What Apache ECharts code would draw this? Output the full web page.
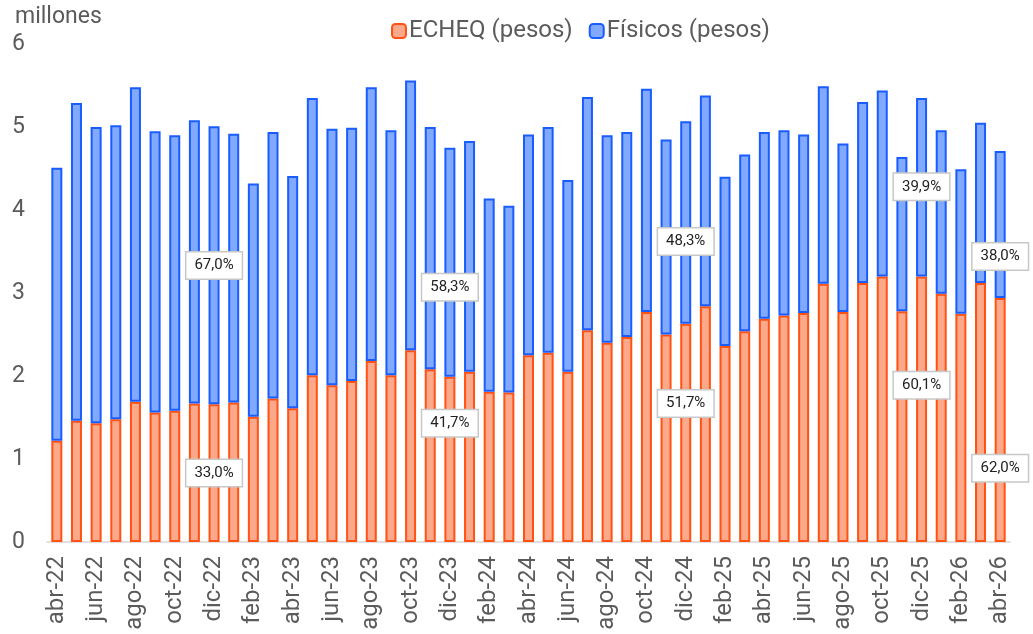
<!DOCTYPE html>
<html>
<head>
<meta charset="utf-8">
<script src="https://cdn.jsdelivr.net/npm/echarts@6/dist/echarts.min.js"></script>
<style>
  html, body { margin: 0; padding: 0; background: #fff; }
  #main { width: 1033px; height: 634px; }
</style>
</head>
<body>
<div id="main"></div>
<script>
// meses abr-22 .. abr-26
const months = [
  'abr-22','may-22','jun-22','jul-22','ago-22','sep-22','oct-22','nov-22','dic-22',
  'ene-23','feb-23','mar-23','abr-23','may-23','jun-23','jul-23','ago-23','sep-23','oct-23','nov-23','dic-23',
  'ene-24','feb-24','mar-24','abr-24','may-24','jun-24','jul-24','ago-24','sep-24','oct-24','nov-24','dic-24',
  'ene-25','feb-25','mar-25','abr-25','may-25','jun-25','jul-25','ago-25','sep-25','oct-25','nov-25','dic-25',
  'ene-26','feb-26','mar-26','abr-26'
]

// millones de cheques, ECHEQ
const echeq = [
  1.22, 1.46, 1.43, 1.48, 1.69, 1.56, 1.58, 1.67, 1.66,
  1.68, 1.51, 1.73, 1.61, 2.01, 1.89, 1.94, 2.18, 2.01, 2.31, 2.08, 1.99,
  2.05, 1.81, 1.80, 2.25, 2.28, 2.05, 2.55, 2.40, 2.47, 2.77, 2.50, 2.63,
  2.84, 2.36, 2.54, 2.69, 2.73, 2.76, 3.11, 2.77, 3.12, 3.20, 2.78, 3.20,
  2.99, 2.75, 3.12, 2.94
]

// millones de cheques, físicos
const fisicos = [
  3.29, 3.83, 3.57, 3.54, 3.79, 3.39, 3.32, 3.41, 3.35,
  3.24, 2.81, 3.21, 2.80, 3.34, 3.09, 3.05, 3.30, 2.95, 3.25, 2.92, 2.76,
  2.78, 2.33, 2.25, 2.66, 2.72, 2.31, 2.81, 2.50, 2.47, 2.69, 2.35, 2.44,
  2.54, 2.04, 2.13, 2.25, 2.23, 2.15, 2.38, 2.03, 2.18, 2.24, 1.86, 2.15,
  1.97, 1.74, 1.93, 1.77
]

// participación anual (cajas de texto)
const shareMonths = ['dic-22', 'dic-22', 'dic-23', 'dic-23', 'dic-24', 'dic-24', 'dic-25', 'dic-25', 'abr-26', 'abr-26']
const shareLevels = [3.33, 0.83, 3.07, 1.43, 3.62, 1.67, 4.28, 1.89, 3.44, 0.89]
const shareTexts = ['67,0%', '33,0%', '58,3%', '41,7%', '48,3%', '51,7%', '39,9%', '60,1%', '38,0%', '62,0%']

const yTicks = [0, 1, 2, 3, 4, 5, 6]

const FONT = 'Roboto'
const GREY = '#5b5b5b'

var chart = echarts.init(document.getElementById('main'))

var option = {
  animation: false,
  textStyle: { fontFamily: FONT },
  title: {
    text: 'millones',
    left: 10,
    top: 1,
    textStyle: { fontFamily: FONT, fontSize: 23, fontWeight: 'normal', color: GREY }
  },
  legend: {
    top: 14,
    left: 386,
    itemWidth: 14,
    itemHeight: 14,
    itemGap: 16,
    textStyle: { fontFamily: FONT, fontSize: 24, color: GREY, padding: [0, 0, 0, -2] },
    data: ['ECHEQ (pesos)', 'Físicos (pesos)']
  },
  grid: { left: 47, right: 23, top: 44, bottom: 92, containLabel: false },
  xAxis: {
    type: 'category',
    data: months,
    boundaryGap: true,
    axisLine: { lineStyle: { color: '#d6d6d6', width: 1.5 } },
    axisTick: { interval: 1, length: 6, lineStyle: { color: '#d6d6d6', width: 1.5 } },
    axisLabel: {
      interval: 1,
      rotate: 90,
      margin: 14,
      fontFamily: FONT,
      fontSize: 24,
      color: GREY
    }
  },
  yAxis: {
    type: 'value',
    min: yTicks[0],
    max: yTicks[yTicks.length - 1],
    interval: 1,
    splitLine: { show: false },
    axisLine: { show: false },
    axisTick: { show: false },
    axisLabel: { fontFamily: FONT, fontSize: 23, color: GREY, margin: 22 }
  },
  series: [
    {
      name: 'ECHEQ (pesos)',
      type: 'bar',
      stack: 'total',
      barWidth: 11,
      data: echeq,
      itemStyle: { color: '#fca88a', borderColor: '#ff5214', borderWidth: 2 }
    },
    {
      name: 'Físicos (pesos)',
      type: 'bar',
      stack: 'total',
      barWidth: 11,
      data: fisicos,
      itemStyle: { color: '#80a9ff', borderColor: '#1a5dff', borderWidth: 2 }
    },
    {
      name: 'participacion',
      type: 'scatter',
      symbolSize: 1,
      silent: true,
      z: 10,
      itemStyle: { opacity: 0 },
      data: shareMonths.map((m, i) => ({ value: [m, shareLevels[i]], text: shareTexts[i] })),
      label: {
        show: true,
        position: 'inside',
        formatter: p => p.data.text,
        fontFamily: FONT,
        fontSize: 15,
        color: '#222',
        opacity: 1,
        textBorderWidth: 0,
        backgroundColor: '#ffffff',
        borderColor: '#c8c8c8',
        borderWidth: 1.5,
        padding: [6, 8, 5, 8]
      }
    }
  ]
}

chart.setOption(option)
</script>
</body>
</html>
